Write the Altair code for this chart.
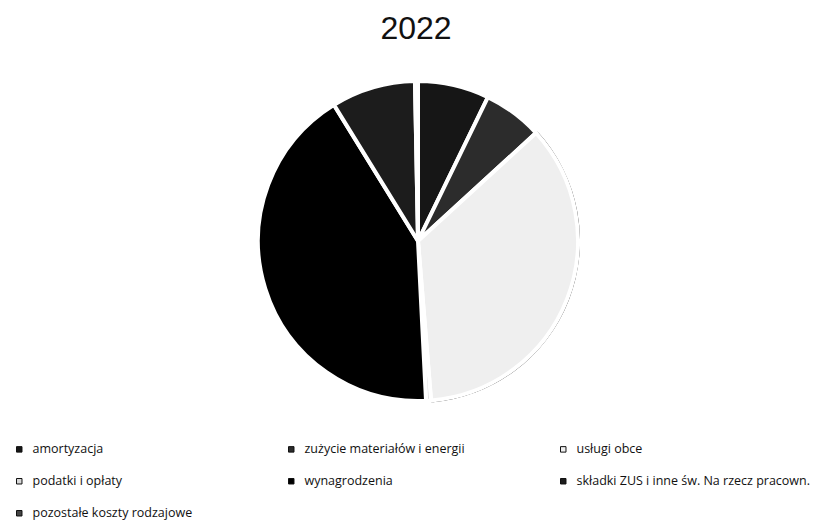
import altair as alt
import pandas as pd

categories = [
    "amortyzacja",
    "zużycie materiałów i energii",
    "usługi obce",
    "podatki i opłaty",
    "wynagrodzenia",
    "składki ZUS i inne św. Na rzecz pracown.",
    "pozostałe koszty rodzajowe",
]
shares = [7.2, 6.0, 35.5, 0.5, 42.0, 8.5, 0.3]
colors = ["#161616", "#2c2c2c", "#efefef", "#d8d8d8", "#000000", "#1c1c1c", "#444444"]

df = pd.DataFrame({"kategoria": categories, "udzial": shares, "idx": list(range(len(categories)))})

CX, CY, R = 410, 173, 160

color_scale = alt.Scale(domain=categories, range=colors)

base = alt.Chart(df).encode(
    theta=alt.Theta("udzial:Q", stack=True),
    order=alt.Order("idx:Q"),
    x=alt.value(CX),
    y=alt.value(CY),
)

pie = base.mark_arc(radius=R, stroke="white", strokeWidth=4).encode(
    color=alt.Color(
        "kategoria:N",
        scale=color_scale,
        legend=alt.Legend(
            title=None,
            values=categories,
            orient="none",
            direction="horizontal",
            legendX=5,
            legendY=375,
            columns=3,
            gridAlign="all",
            columnPadding=19,
            rowPadding=19,
            symbolType="square",
            symbolSize=30,
            symbolStrokeColor="#111111",
            symbolStrokeWidth=1,
            labelOffset=7,
            labelFont="Open Sans",
            labelFontSize=12.5,
            labelColor="#111111",
            labelLimit=400,
            padding=0,
        ),
    )
)

ring = base.mark_arc(radius=R + 2, radius2=R - 4, strokeWidth=0).encode(
    fill=alt.condition(
        alt.datum.kategoria == "usługi obce", alt.value("#000000"), alt.value("transparent")
    )
)

chart = (
    alt.layer(ring, pie)
    .properties(
        width=816,
        height=455,
        padding={"top": 60, "left": 0, "right": 0, "bottom": 0},
        autosize=alt.AutoSizeParams(type="none"),
        title=alt.TitleParams(
            "2022",
            fontSize=32,
            font="Liberation Sans",
            fontWeight="normal",
            color="#111111",
            anchor="middle",
            offset=22,
        ),
    )
    .configure_view(stroke=None)
)

chart.save("out.html", embed_options={"renderer": "svg", "actions": False})
